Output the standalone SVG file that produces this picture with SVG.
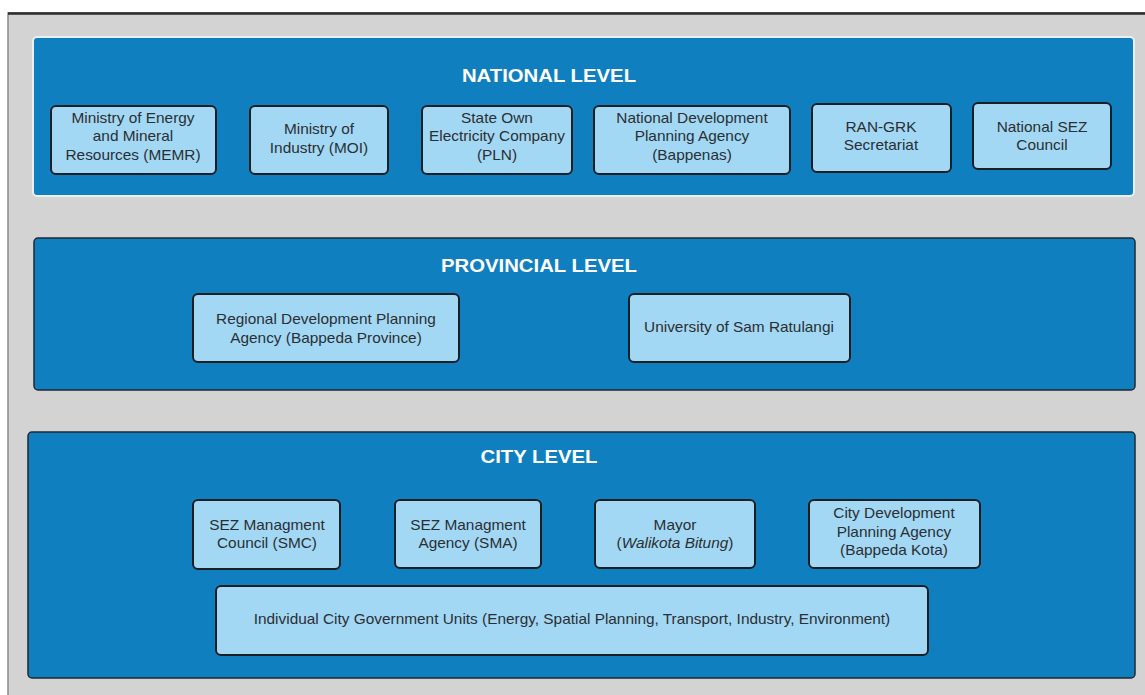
<svg xmlns="http://www.w3.org/2000/svg" width="1145" height="695" viewBox="0 0 1145 695">
<style>
.panel{fill:#107fc0;stroke:#1e2a33;stroke-width:1.5}
.panelN{fill:#107fc0;stroke:#e8f0f6;stroke-width:2}
.box{fill:#a3d8f5;stroke:#1a1f24;stroke-width:2}
.t{font-family:"Liberation Sans",Arial,sans-serif;font-size:14px;fill:#2a2f33;text-anchor:middle;transform-box:fill-box;transform-origin:center;transform:scaleX(1.1)}
.h{font-family:"Liberation Sans",Arial,sans-serif;font-size:19px;font-weight:bold;fill:#ffffff;text-anchor:middle;transform-box:fill-box;transform-origin:center;transform:scaleX(1.07)}
</style>
<rect x="0" y="0" width="1145" height="695" fill="#ffffff"/>
<rect x="8" y="13" width="1150" height="700" fill="#d3d3d3" stroke="#8a8a8a" stroke-width="1.5"/>
<line x1="8" y1="13.5" x2="1145" y2="13.5" stroke="#2b2b2b" stroke-width="2.5"/>

<g id="national-level">
<rect class="panelN" x="33" y="37" width="1101" height="159" rx="4"/>
<text class="h" x="549" y="82">NATIONAL LEVEL</text>
</g>
<g id="memr"><rect class="box" x="51" y="106" width="165" height="68" rx="5"/>
<text class="t" x="133" y="123">Ministry of Energy</text><text class="t" x="133" y="141">and Mineral</text><text class="t" x="133" y="160">Resources (MEMR)</text></g>
<g id="moi"><rect class="box" x="250" y="106" width="138" height="68" rx="5"/>
<text class="t" x="319" y="134">Ministry of</text><text class="t" x="319" y="153">Industry (MOI)</text></g>
<g id="pln"><rect class="box" x="422" y="106" width="150" height="68" rx="5"/>
<text class="t" x="497" y="123">State Own</text><text class="t" x="497" y="141">Electricity Company</text><text class="t" x="497" y="160">(PLN)</text></g>
<g id="bappenas"><rect class="box" x="594" y="106" width="196" height="68" rx="5"/>
<text class="t" x="692" y="123">National Development</text><text class="t" x="692" y="141">Planning Agency</text><text class="t" x="692" y="160">(Bappenas)</text></g>
<g id="ran-grk"><rect class="box" x="812" y="104" width="139" height="68" rx="5"/>
<text class="t" x="881" y="132">RAN-GRK</text><text class="t" x="881" y="150">Secretariat</text></g>
<g id="national-sez"><rect class="box" x="973" y="103" width="138" height="66" rx="5"/>
<text class="t" x="1042" y="132">National SEZ</text><text class="t" x="1042" y="150">Council</text></g>

<g id="provincial-level">
<rect class="panel" x="34" y="238" width="1101" height="152" rx="4"/>
<text class="h" x="539" y="272">PROVINCIAL LEVEL</text>
</g>
<g id="bappeda-province"><rect class="box" x="193" y="294" width="266" height="68" rx="5"/>
<text class="t" x="326" y="324">Regional Development Planning</text><text class="t" x="326" y="343">Agency (Bappeda Province)</text></g>
<g id="unsrat"><rect class="box" x="629" y="294" width="221" height="68" rx="5"/>
<text class="t" x="739" y="332">University of Sam Ratulangi</text></g>

<g id="city-level">
<rect class="panel" x="28" y="432" width="1107" height="246" rx="4"/>
<text class="h" x="539" y="463">CITY LEVEL</text>
</g>
<g id="smc"><rect class="box" x="193" y="500" width="147" height="69" rx="5"/>
<text class="t" x="267" y="530">SEZ Managment</text><text class="t" x="267" y="548">Council (SMC)</text></g>
<g id="sma"><rect class="box" x="395" y="500" width="146" height="68" rx="5"/>
<text class="t" x="468" y="530">SEZ Managment</text><text class="t" x="468" y="548">Agency (SMA)</text></g>
<g id="mayor"><rect class="box" x="595" y="500" width="160" height="68" rx="5"/>
<text class="t" x="675" y="530">Mayor</text><text class="t" x="675" y="548">(<tspan font-style="italic">Walikota Bitung</tspan>)</text></g>
<g id="bappeda-kota"><rect class="box" x="809" y="500" width="171" height="68" rx="5"/>
<text class="t" x="894" y="518">City Development</text><text class="t" x="894" y="537">Planning Agency</text><text class="t" x="894" y="555">(Bappeda Kota)</text></g>
<g id="city-units"><rect class="box" x="216" y="586" width="712" height="69" rx="5"/>
<text class="t" x="572" y="624">Individual City Government Units (Energy, Spatial Planning, Transport, Industry, Environment)</text></g>

<g id="connectors"/>
</svg>
